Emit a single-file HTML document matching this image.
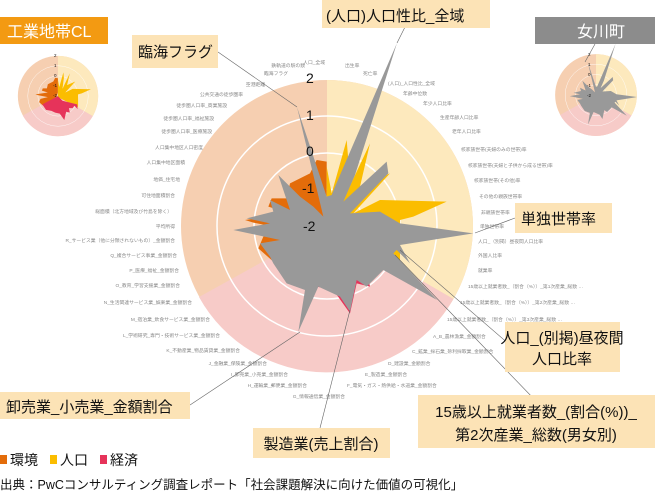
<!DOCTYPE html>
<html><head><meta charset="utf-8"><style>
body{margin:0;background:#fff;width:655px;height:494px;overflow:hidden;font-family:"Liberation Sans","Noto Sans CJK JP",sans-serif;}
svg{position:absolute;left:0;top:0}
.s{font-size:4.8px;fill:#888}
</style></head><body>
<svg width="655" height="494" viewBox="0 0 655 494" xmlns="http://www.w3.org/2000/svg" font-family="Liberation Sans, Noto Sans CJK JP, sans-serif">
<defs>
<g id="bg">
  <circle cx="327" cy="226" r="146" fill="#f6cfb1"/>
  <path d="M327 226 L327 80 A146 146 0 0 1 453.4 299 Z" fill="#fde9bd"/>
  <path d="M327 226 L453.4 299 A146 146 0 0 1 199 297 Z" fill="#f7cbc8"/>
  <g fill="none" stroke="#fff" stroke-width="1.5">
    <circle cx="327" cy="226" r="36.7"/><circle cx="327" cy="226" r="73"/><circle cx="327" cy="226" r="110"/>
  </g>
</g>
<g id="col" transform="translate(180,130) scale(0.33333)">
  <polygon fill="#e36c0a" points="440,250 440,95 410,90 390,130 330,160 320,205 275,205 265,230 330,250 195,270 220,278 330,300 250,320 235,355 280,395 420,300"/>
  <polygon fill="#fbbd00" points="440,250 440,110 455,190 500,30 505,90 490,210 570,40 540,170 630,130 520,250 600,210 800,215 700,260 660,270 660,400 655,410 440,300"/>
  <polygon fill="#e6335a" points="440,290 270,380 290,410 310,440 370,450 410,470 460,480 510,550 530,460 570,470 560,420 600,420 620,395 655,430 650,380 490,340"/>
</g>
<g id="gray" transform="translate(180,130) scale(0.33333)">
  <polygon fill="#999" points="430,260 351,-69 440,200 455,195 465,170 651,-261 525,135 490,215 620,95 625,130 510,250 600,245 660,280 880,310 660,345 690,400 650,360 640,370 771,510 610,420 560,470 530,450 510,545 480,500 415,470 355,605 375,480 320,460 300,430 280,400 270,380 240,340 300,330 160,300 270,280 200,265 280,245 270,210 330,240 295,135 360,200 400,230"/>
</g>
</defs>

<use href="#bg"/>
<use href="#col"/>
<use href="#gray"/>
<g font-size="14" fill="#111">
<text x="306" y="83">2</text><text x="306" y="120">1</text><text x="306" y="156">0</text><text x="302" y="193">-1</text><text x="303" y="231">-2</text>
</g>

<g transform="translate(58,96) scale(0.275) translate(-327,-226)"><use href="#bg"/><use href="#col"/></g>
<g font-size="4.5" fill="#111"><text x="54" y="57">2</text><text x="54" y="67">1</text><text x="54" y="77">0</text><text x="53" y="87">-1</text><text x="53" y="97">-2</text></g>
<g transform="translate(596,95) scale(0.28) translate(-327,-226)"><use href="#bg"/><use href="#gray"/></g>
<g font-size="4.5" fill="#111"><text x="588" y="56">2</text><text x="588" y="66">1</text><text x="588" y="76">0</text><text x="587" y="87">-1</text><text x="587" y="97">-2</text></g>

<g class="s" text-anchor="end">
<text x="305" y="67">鉄軌道の駅の数</text><text x="288" y="75">臨海フラグ</text><text x="265" y="86">空港距離</text>
<text x="243" y="96">公共交通の徒歩圏率</text><text x="227" y="107">徒歩圏人口率_商業施設</text><text x="214" y="120">徒歩圏人口率_福祉施設</text>
<text x="212" y="133">徒歩圏人口率_医療施設</text><text x="203" y="149">人口集中地区人口密度</text><text x="185" y="164">人口集中地区面積</text>
<text x="180" y="181">地価_住宅地</text><text x="175" y="197">可住地面積割合</text><text x="172" y="213">総面積（北方地域及び竹島を除く）</text>
<text x="175" y="228">平均所得</text><text x="175" y="242">R_サービス業（他に分類されないもの）_金額割合</text><text x="177" y="257">Q_複合サービス事業_金額割合</text>
<text x="179" y="272">P_医療_福祉_金額割合</text><text x="180" y="287">O_教育_学習支援業_金額割合</text><text x="192" y="304">N_生活関連サービス業_娯楽業_金額割合</text>
<text x="210" y="321">M_宿泊業_飲食サービス業_金額割合</text><text x="220" y="337">L_学術研究_専門・技術サービス業_金額割合</text>
<text x="240" y="352">K_不動産業_物品賃貸業_金額割合</text><text x="267" y="365">J_金融業_保険業_金額割合</text>
<text x="288" y="376">I_卸売業_小売業_金額割合</text><text x="307" y="387">H_運輸業_郵便業_金額割合</text><text x="345" y="398">G_情報通信業_金額割合</text>
<text x="325" y="64">人口_全域</text>
</g>
<g class="s">
<text x="347" y="387">F_電気・ガス・熱供給・水道業_金額割合</text><text x="365" y="376">E_製造業_金額割合</text><text x="388" y="365">D_建設業_金額割合</text>
<text x="412" y="353">C_鉱業_採石業_砂利採取業_金額割合</text><text x="433" y="338">A_B_農林漁業_金額割合</text>
<text x="447" y="321">15歳以上就業者数_（割合（%））_第3次産業_総数 …</text><text x="460" y="304">15歳以上就業者数_（割合（%））_第2次産業_総数 …</text>
<text x="468" y="288">15歳以上就業者数_（割合（%））_第1次産業_総数 …</text><text x="478" y="272">就業率</text><text x="478" y="257">外国人比率</text>
<text x="478" y="243">人口_（別掲）昼夜間人口比率</text><text x="480" y="228">単独世帯率</text><text x="481" y="214">非親族世帯率</text>
<text x="479" y="198">その他の親族世帯率</text><text x="474" y="182">核家族世帯(その他)率</text><text x="468" y="167">核家族世帯(夫婦と子供から成る世帯)率</text>
<text x="461" y="151">核家族世帯(夫婦のみの世帯)率</text><text x="452" y="133">老年人口比率</text><text x="440" y="119">生産年齢人口比率</text>
<text x="423" y="105">年少人口比率</text><text x="403" y="95">年齢中位数</text><text x="388" y="85">(人口)_人口性比_全域</text>
<text x="363" y="75">死亡率</text><text x="345" y="67">出生率</text>
</g>

<g stroke="#666" stroke-width="0.6" fill="none">
<line x1="218" y1="52" x2="297" y2="107"/><line x1="405" y1="27" x2="397" y2="43"/>
<line x1="515" y1="218" x2="475" y2="233"/><line x1="400" y1="250" x2="510" y2="345"/>
<line x1="395" y1="255" x2="535" y2="400"/><line x1="320" y1="428" x2="350" y2="310"/>
<line x1="190" y1="405" x2="300" y2="332"/>
<line x1="595" y1="44" x2="585" y2="62"/>
</g>

<g fill="#fce3b6">
<rect x="132" y="35" width="86" height="33"/><rect x="322" y="0" width="168" height="28"/>
<rect x="515" y="203" width="97" height="30"/><rect x="505" y="322" width="115" height="50"/>
<rect x="418" y="395" width="237" height="53"/><rect x="253" y="428" width="137" height="30"/>
<rect x="0" y="392" width="190" height="27"/>
</g>
<g font-size="15" fill="#111">
<text x="138" y="57">臨海フラグ</text><text x="326" y="21">(人口)人口性比_全域</text>
<text x="521" y="224">単独世帯率</text>
<text x="562" y="343" text-anchor="middle">人口_(別掲)昼夜間</text><text x="562" y="364" text-anchor="middle">人口比率</text>
<text x="536" y="417" text-anchor="middle">15歳以上就業者数_(割合(%))_</text><text x="536" y="440" text-anchor="middle">第2次産業_総数(男女別)</text>
<text x="321" y="449" text-anchor="middle">製造業(売上割合)</text><text x="6" y="412">卸売業_小売業_金額割合</text>
</g>

<rect x="0" y="17" width="108" height="27" fill="#f39a12"/>
<text x="7" y="37" font-size="16" fill="#fff">工業地帯CL</text>
<rect x="535" y="17" width="120" height="27" fill="#8c8c8c"/>
<text x="577" y="37" font-size="16" fill="#fff">女川町</text>

<rect x="0" y="455" width="7" height="9" fill="#e36c0a"/><text x="10" y="465" font-size="14" fill="#111">環境</text>
<rect x="50" y="455" width="7" height="9" fill="#fbbd00"/><text x="60" y="465" font-size="14" fill="#111">人口</text>
<rect x="100" y="455" width="7" height="9" fill="#e6335a"/><text x="110" y="465" font-size="14" fill="#111">経済</text>
<text x="0" y="489" font-size="12.5" fill="#111">出典：PwCコンサルティング調査レポート「社会課題解決に向けた価値の可視化」</text>
</svg>
</body></html>
